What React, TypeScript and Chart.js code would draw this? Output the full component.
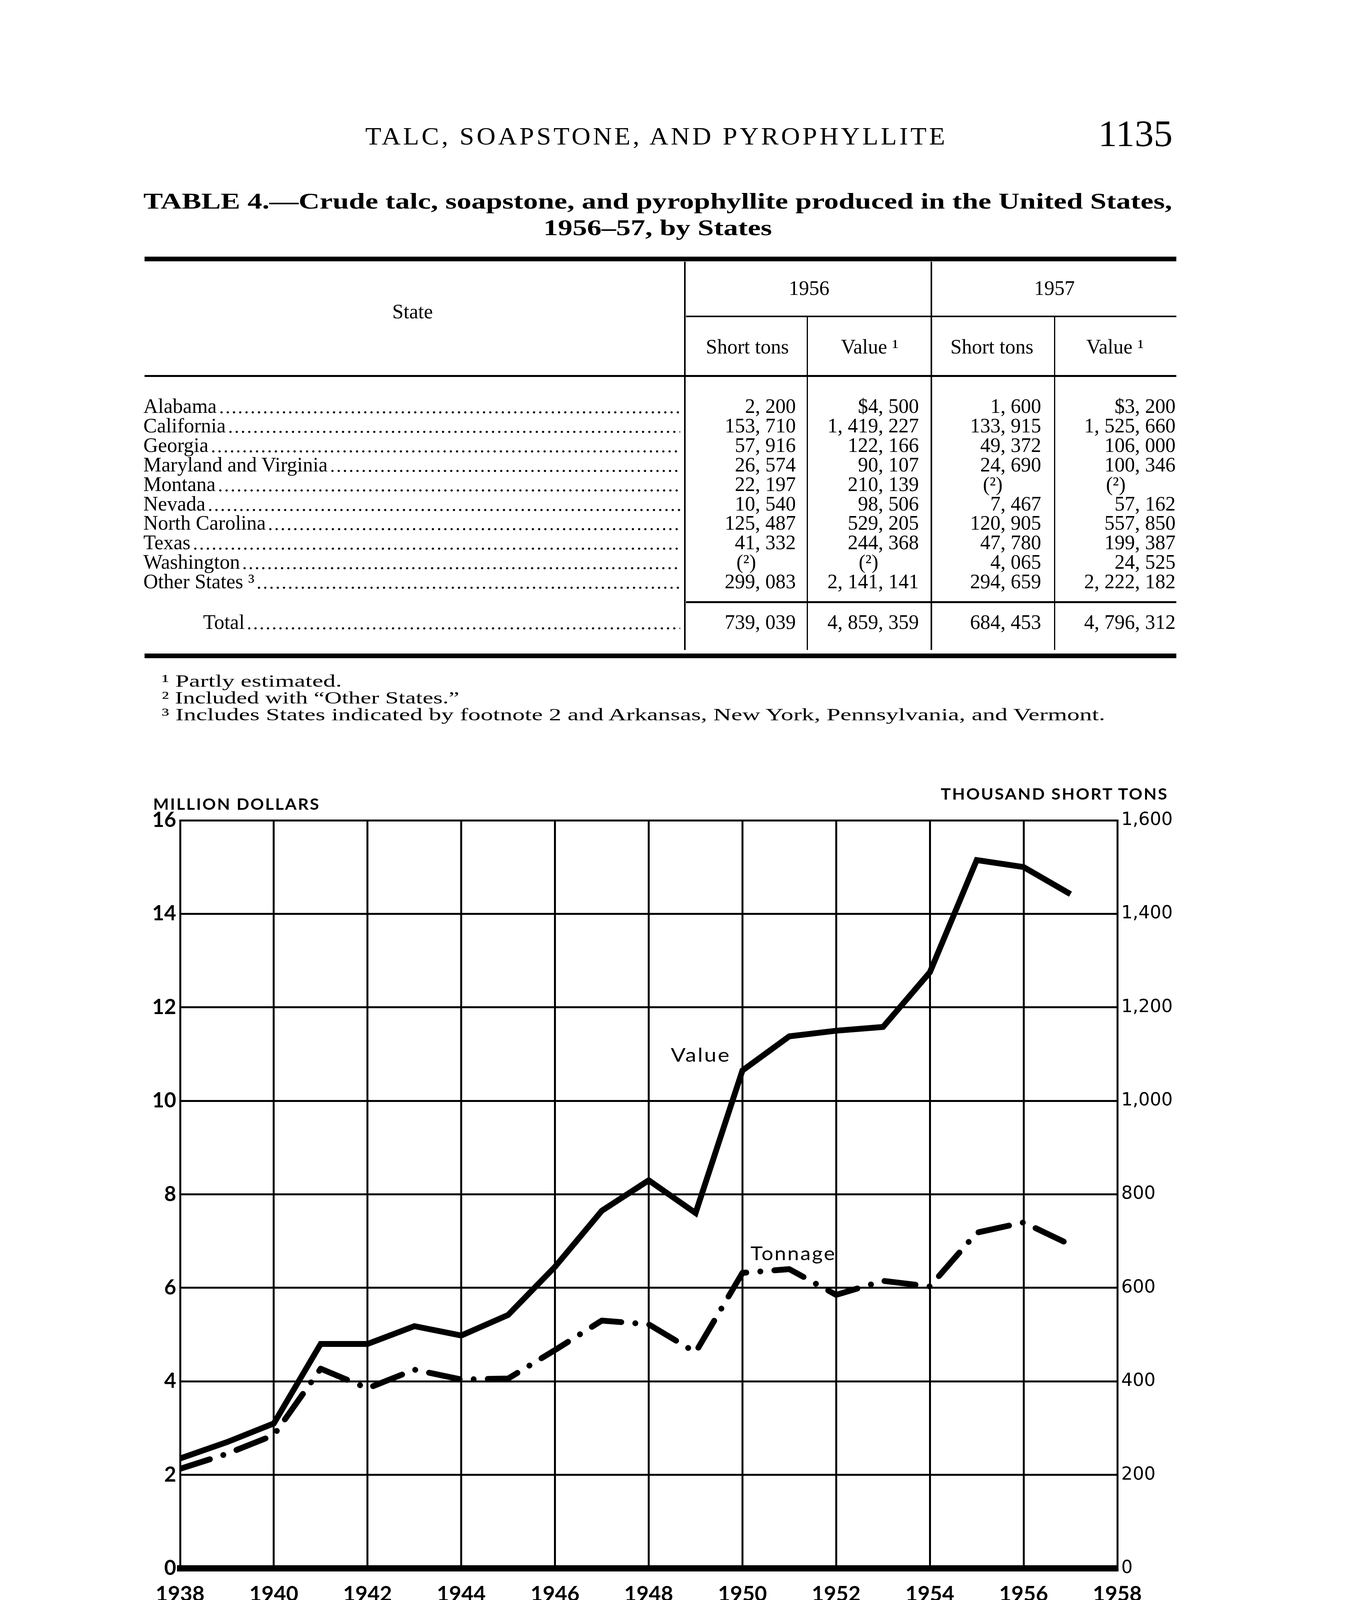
import React, { useEffect, useLayoutEffect, useRef } from "react";
import { Chart, registerables } from "chart.js";

Chart.register(...registerables);

// ---------------- Chart data ----------------
const years = [1938, 1939, 1940, 1941, 1942, 1943, 1944, 1945, 1946, 1947, 1948, 1949, 1950, 1951, 1952, 1953, 1954, 1955, 1956, 1957];
const valueMillionDollars = [2.35, 2.7, 3.1, 4.8, 4.8, 5.18, 4.98, 5.42, 6.45, 7.65, 8.3, 7.6, 10.65, 11.38, 11.5, 11.58, 12.75, 15.15, 15.0, 14.42];
const tonnageThousandShortTons = [213, 245, 285, 427, 385, 425, 404, 406, 467, 530, 522, 462, 632, 640, 585, 615, 603, 718, 740, 692];
const xTickYears = [1938, 1940, 1942, 1944, 1946, 1948, 1950, 1952, 1954, 1956, 1958];
const leftTicks = [0, 2, 4, 6, 8, 10, 12, 14, 16];
const rightTicks = [0, 200, 400, 600, 800, 1000, 1200, 1400, 1600];

// ---------------- Table data ----------------
const states = ["Alabama", "California", "Georgia", "Maryland and Virginia", "Montana", "Nevada", "North Carolina", "Texas", "Washington", "Other States \u00b3"];
const tons1956 = ["2, 200", "153, 710", "57, 916", "26, 574", "22, 197", "10, 540", "125, 487", "41, 332", "(\u00b2)", "299, 083"];
const value1956 = ["$4, 500", "1, 419, 227", "122, 166", "90, 107", "210, 139", "98, 506", "529, 205", "244, 368", "(\u00b2)", "2, 141, 141"];
const tons1957 = ["1, 600", "133, 915", "49, 372", "24, 690", "(\u00b2)", "7, 467", "120, 905", "47, 780", "4, 065", "294, 659"];
const value1957 = ["$3, 200", "1, 525, 660", "106, 000", "100, 346", "(\u00b2)", "57, 162", "557, 850", "199, 387", "24, 525", "2, 222, 182"];
const totals = ["739, 039", "4, 859, 359", "684, 453", "4, 796, 312"];
const footnotes = [
  "\u00b9 Partly estimated.",
  "\u00b2 Included with \u201cOther States.\u201d",
  "\u00b3 Includes States indicated by footnote 2 and Arkansas, New York, Pennsylvania, and Vermont.",
];
const bodyLines = [
  "deposits were being initiated.  Carolina Pyrophyllite Co. was con-",
  "structing two water reservoirs in the Bowling Mountain area, near",
  "Stem, Granville County, N. C., preliminary to beginning pyrophyllite",
  "mining in the area.  Long-range plans included a flotation plant to",
  "upgrade the ore.",
];

const SERIF = "'Liberation Serif', 'Times New Roman', serif";
const BODY_SERIF = "'DejaVu Serif', serif";
const SANS = "Lato, 'Open Sans', sans-serif";

function Fit(props: any) {
  const { left, cy, width, size, family, weight = 400, children, style } = props;
  const ref = useRef<HTMLDivElement>(null);
  useLayoutEffect(() => {
    const el = ref.current;
    if (!el) return;
    const w = el.offsetWidth;
    if (w > 0) el.style.transform = `scaleX(${width / w})`;
  });
  return (
    <div
      ref={ref}
      style={{
        position: "absolute",
        left,
        top: cy - size / 2,
        fontFamily: family,
        fontWeight: weight,
        fontSize: size,
        lineHeight: `${size}px`,
        whiteSpace: "pre",
        transformOrigin: "0 50%",
        ...style,
      }}
    >
      {children}
    </div>
  );
}

function T(props: any) {
  const { x, cy, size = 52, align = "left", family = SERIF, weight = 400, children, style } = props;
  const base: any = {
    position: "absolute",
    top: cy - size / 2,
    fontFamily: family,
    fontWeight: weight,
    fontSize: size,
    lineHeight: `${size}px`,
    whiteSpace: "pre",
    ...style,
  };
  if (align === "left") base.left = x;
  else if (align === "right") base.right = 3453 - x;
  else {
    base.left = x;
    base.transform = "translateX(-50%)";
  }
  return <div style={base}>{children}</div>;
}

function Rule({ x1, x2, y, h }: any) {
  return <div style={{ position: "absolute", left: x1, width: x2 - x1, top: y - h / 2, height: h, background: "#000" }} />;
}
function VRule({ x, y1, y2, w }: any) {
  return <div style={{ position: "absolute", left: x - w / 2, width: w, top: y1, height: y2 - y1, background: "#000" }} />;
}

function LeaderRow({ left, right, cy, text }: any) {
  const size = 52;
  return (
    <div style={{ position: "absolute", left, width: right - left, top: cy - size / 2, height: size, display: "flex", fontFamily: SERIF, fontSize: size, lineHeight: `${size}px` }}>
      <span style={{ whiteSpace: "pre" }}>{text}</span>
      <span
        style={{
          flex: 1,
          marginLeft: 4,
          backgroundImage: "radial-gradient(circle at 50% 80%, #000 2.4px, transparent 3.2px)",
          backgroundSize: "16px 52px",
          backgroundRepeat: "repeat-x",
        }}
      />
    </div>
  );
}

function TalcChart() {
  const ref = useRef<HTMLCanvasElement>(null);
  useEffect(() => {
    const canvas = ref.current;
    if (!canvas) return;
    const chart = new Chart(canvas, {
      type: "line",
      data: {
        datasets: [
          {
            label: "Value",
            data: years.map((yr, i) => ({ x: yr, y: valueMillionDollars[i] })),
            yAxisID: "y",
            borderColor: "#000",
            borderWidth: 15,
            pointRadius: 0,
            tension: 0,
            borderJoinStyle: "miter",
            fill: false,
          },
          {
            label: "Tonnage",
            data: years.map((yr, i) => ({ x: yr, y: tonnageThousandShortTons[i] })),
            yAxisID: "y2",
            borderColor: "#000",
            borderWidth: 15,
            borderDash: [80, 36, 0.1, 36],
            borderCapStyle: "round",
            borderJoinStyle: "round",
            pointRadius: 0,
            tension: 0,
            fill: false,
          },
        ],
      } as any,
      options: {
        animation: false,
        responsive: false,
        devicePixelRatio: 1,
        layout: { padding: { top: 150, left: 0, right: 0, bottom: 0 } },
        plugins: { legend: { display: false }, tooltip: { enabled: false }, title: { display: false } },
        scales: {
          x: {
            type: "linear",
            position: "bottom",
            min: 1938,
            max: 1958,
            afterBuildTicks: (s: any) => {
              s.ticks = xTickYears.map((v) => ({ value: v }));
            },
            afterFit: (s: any) => {
              s.height = 135;
            },
            grid: { color: "#000", lineWidth: 5, drawTicks: false },
            border: { display: true, color: "#000", width: 16 },
            ticks: {
              color: "#000",
              font: { family: "Lato", weight: "bold", size: 54 },
              padding: 34,
              maxRotation: 0,
              autoSkip: false,
              callback: (v: any) => String(v),
            },
          },
          y: {
            position: "left",
            min: 0,
            max: 16,
            afterBuildTicks: (s: any) => {
              s.ticks = leftTicks.map((v) => ({ value: v }));
            },
            afterFit: (s: any) => {
              s.width = 161;
            },
            grid: { color: "#000", lineWidth: 5, drawTicks: false },
            border: { display: true, color: "#000", width: 5 },
            ticks: {
              color: "#000",
              font: { family: "Lato", weight: "bold", size: 53 },
              padding: 10,
              callback: (v: any) => String(v),
            },
          },
          y2: {
            position: "right",
            min: 0,
            max: 1600,
            afterBuildTicks: (s: any) => {
              s.ticks = rightTicks.map((v) => ({ value: v }));
            },
            afterFit: (s: any) => {
              s.width = 240;
            },
            grid: { display: false, drawTicks: false },
            border: { display: true, color: "#000", width: 5 },
            ticks: {
              color: "#000",
              font: { family: "DejaVu Sans", weight: "normal", size: 46 },
              padding: 10,
              callback: (v: any) => Number(v).toLocaleString("en-US"),
            },
          },
        },
      } as any,
    });
    return () => chart.destroy();
  }, []);
  return <canvas ref={ref} width={2800} height={2200} style={{ position: "absolute", left: 300, top: 1950, width: 2800, height: 2200 }} />;
}

export default function App() {
  const colLeft = [1753, 2066, 2384, 2699];
  const colRight = [2037, 2352, 2665, 3009];
  const cols = [tons1956, value1956, tons1957, value1957];
  const rowCY = (i: number) => 1040 + i * 49.9;

  return (
    <div style={{ position: "absolute", left: 0, top: 0, width: 3453, height: 5415, background: "#fff", color: "#000", overflow: "hidden" }}>
      {/* Running head */}
      <Fit left={935} cy={349} width={1490} size={64} family={SERIF} style={{ letterSpacing: 6 }}>
        TALC, SOAPSTONE, AND PYROPHYLLITE
      </Fit>
      <Fit left={2811} cy={342} width={190} size={96} family={SERIF}>
        1135
      </Fit>

      {/* Table title */}
      <Fit left={367} cy={515} width={2633} size={58} family={SERIF} weight={700}>
        TABLE 4.—Crude talc, soapstone, and pyrophyllite produced in the United States,
      </Fit>
      <Fit left={1391} cy={583} width={585} size={58} family={SERIF} weight={700}>
        1956–57, by States
      </Fit>

      {/* Table rules */}
      <Rule x1={370} x2={3011} y={663} h={12} />
      <Rule x1={1756} x2={3011} y={810} h={4} />
      <Rule x1={370} x2={3011} y={962} h={5} />
      <Rule x1={1756} x2={3011} y={1541} h={5} />
      <Rule x1={370} x2={3011} y={1679} h={12} />
      <VRule x={1753} y1={670} y2={1664} w={4} />
      <VRule x={2384} y1={670} y2={1664} w={4} />
      <VRule x={2066} y1={812} y2={1664} w={3} />
      <VRule x={2699} y1={812} y2={1664} w={3} />

      {/* Table headers */}
      <T x={1056} cy={798} align="center">State</T>
      <T x={2071} cy={738} align="center">1956</T>
      <T x={2699} cy={738} align="center">1957</T>
      <T x={1913} cy={888} align="center">Short tons</T>
      <T x={2226} cy={888} align="center">Value ¹</T>
      <T x={2539} cy={888} align="center">Short tons</T>
      <T x={2854} cy={888} align="center">Value ¹</T>

      {/* Table body */}
      {states.map((s, i) => (
        <LeaderRow key={"s" + i} left={367} right={1741} cy={rowCY(i)} text={s} />
      ))}
      {cols.map((col, c) =>
        col.map((v, i) =>
          v.startsWith("(") ? (
            <T key={`c${c}-${i}`} x={colLeft[c] + 132} cy={rowCY(i)} align="left">
              {v}
            </T>
          ) : (
            <T key={`c${c}-${i}`} x={colRight[c]} cy={rowCY(i)} align="right">
              {v}
            </T>
          )
        )
      )}
      <LeaderRow left={520} right={1741} cy={1593} text="Total" />
      {totals.map((v, c) => (
        <T key={"t" + c} x={colRight[c]} cy={1593} align="right">
          {v}
        </T>
      ))}

      {/* Footnotes */}
      <Fit left={414} cy={1744} width={461} size={44} family={SERIF}>{footnotes[0]}</Fit>
      <Fit left={414} cy={1787} width={762} size={44} family={SERIF}>{footnotes[1]}</Fit>
      <Fit left={414} cy={1830} width={2414} size={44} family={SERIF}>{footnotes[2]}</Fit>

      {/* Chart */}
      <TalcChart />
      <Fit left={392} cy={2058} width={428} size={40} family={SANS} weight={700} style={{ letterSpacing: 3 }}>
        MILLION DOLLARS
      </Fit>
      <Fit left={2408} cy={2032} width={582} size={40} family={SANS} weight={700} style={{ letterSpacing: 3 }}>
        THOUSAND SHORT TONS
      </Fit>
      <Fit left={1717} cy={2700} width={153} size={48} family={SANS} style={{ letterSpacing: 3 }}>
        Value
      </Fit>
      <Fit left={1921} cy={3208} width={219} size={48} family={SANS} style={{ letterSpacing: 3 }}>
        Tonnage
      </Fit>

      {/* Caption */}
      <Fit left={508} cy={4195} width={2386} size={64} family={SERIF}>
        <span style={{ fontVariant: "small-caps" }}>Figure</span> 1.—Sales of domestic talc, soapstone, and pyrophyllite, 1938–57.
      </Fit>

      {/* Body text */}
      {bodyLines.map((line, i) => (
        <Fit key={"b" + i} left={376} cy={4403 + i * 83} width={i < 4 ? 2649 : 614} size={74} family={BODY_SERIF}>
          {line}
        </Fit>
      ))}
    </div>
  );
}
